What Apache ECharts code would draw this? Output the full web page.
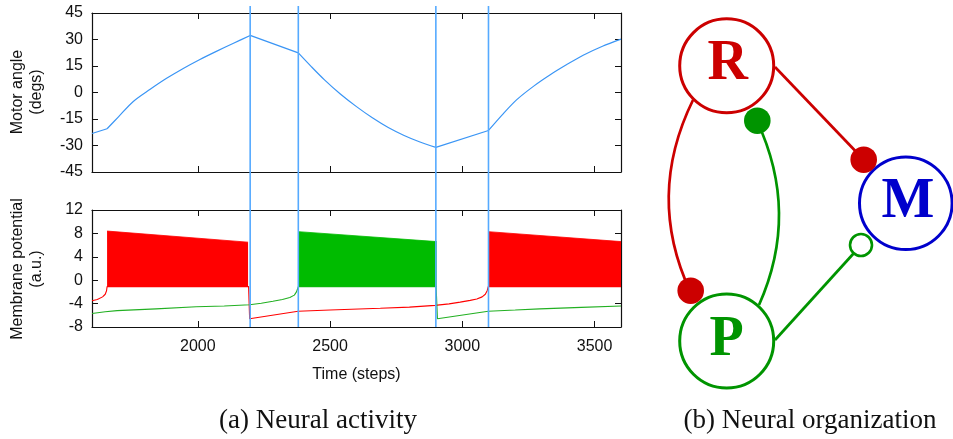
<!DOCTYPE html>
<html>
<head>
<meta charset="utf-8">
<script src="https://cdn.jsdelivr.net/npm/echarts@6/dist/echarts.min.js"></script>
<style>
  html, body { margin: 0; padding: 0; background: #fff; }
  #chart { width: 953px; height: 439px; }
</style>
</head>
<body>
<div id="chart"></div>
<script>
// ---- data -------------------------------------------------------------
const timeRange = [1600, 3600];
const timeTicks = [2000, 2500, 3000, 3500];
const angleRange = [-45, 45];
const potentialRange = [-8, 12];

// switching events (steps)
const eventTimes = [2198, 2380, 2900, 3099];

// motor angle trajectory
const motorTime  = [1600, 1657, 1700, 1755, 1820, 1882, 1945, 2008, 2070, 2135, 2198,
                    2380, 2430, 2480, 2540, 2600, 2660, 2720, 2780, 2840, 2900,
                    3099, 3150, 3205, 3270, 3331, 3395, 3457, 3530, 3600];
const motorAngle = [-23.2, -20.5, -13.8, -5.2, 1.8, 8.0, 13.6, 18.7, 23.3, 27.9, 32.3,
                    22.4, 14.5, 7.0, -1.0, -8.0, -14.3, -19.8, -24.3, -28.0, -31.1,
                    -21.5, -12.8, -4.2, 3.6, 9.9, 15.8, 21.1, 26.2, 30.2];
// steps where the motor command switches (corners of the trajectory)
const motorCorners = [1657, 2198, 2380, 2900, 3099];

// sub-threshold membrane potential of R (red) and P (green)
const redTime      = [1600, 1620, 1640, 1650, 1655, 1657, 2192, 2196, 2379, 2500, 2690, 2800,
                      2897, 2950, 2992, 3030, 3055, 3075, 3087, 3094, 3098, 3600];
const redPotential = [-3.5, -3.3, -2.85, -2.4, -1.8, -1.1, -1.1, -6.6, -5.3, -5.1, -4.8, -4.6,
                      -4.3, -4.05, -3.75, -3.45, -3.2, -2.85, -2.4, -1.8, -1.1, -1.1];
const greenTime      = [1600, 1650, 1695, 1842, 1994, 2100, 2196, 2240, 2284, 2320, 2348,
                        2365, 2373, 2377, 2380, 2901, 2906, 3098, 3200, 3293, 3450, 3600];
const greenPotential = [-5.7, -5.4, -5.2, -4.9, -4.55, -4.4, -4.2, -3.95, -3.6, -3.3, -2.95,
                        -2.55, -2.0, -1.5, -1.1, -1.1, -6.6, -5.3, -5.1, -4.9, -4.65, -4.4];

// spiking bursts: start/end step and spike peak at start/end, trough level
const spikeTrough = -1.1;
const redBurstStart = [1657, 3098];
const redBurstEnd   = [2190, 3600];
const redPeakStart  = [8.4, 8.3];
const redPeakEnd    = [6.5, 6.6];
const greenBurstStart = [2380];
const greenBurstEnd   = [2903];
const greenPeakStart  = [8.3];
const greenPeakEnd    = [6.6];

// ---- styling ----------------------------------------------------------
const AXIS = '#111';
const SANS = 'Liberation Sans, Arial, sans-serif';
const SERIF = 'Liberation Serif, Times New Roman, serif';
const RED_N = '#cc0000', GREEN_N = '#009400', BLUE_N = '#0000cc';
const RED_S = '#ff0000', GREEN_S = '#00bb00';

const zip = (xs, ys) => xs.map((x, i) => [x, ys[i]]);

// split the trajectory at its corners so each piece can be smoothed on its own
function motorPieces() {
  const pts = zip(motorTime, motorAngle);
  const pieces = [];
  let cur = [];
  pts.forEach(p => {
    cur.push(p);
    if (motorCorners.includes(p[0])) { pieces.push(cur); cur = [p]; }
  });
  if (cur.length > 1) pieces.push(cur);
  return pieces;
}

function frameX(gridIndex, position, labels) {
  return {
    type: 'value', gridIndex, position,
    min: timeRange[0], max: timeRange[1],
    axisLine: { show: true, onZero: false, lineStyle: { color: AXIS, width: 1.2 } },
    axisTick: { show: true, inside: true, length: 6, customValues: timeTicks,
                lineStyle: { color: AXIS, width: 1 } },
    axisLabel: { show: labels, customValues: timeTicks, margin: 12,
                 formatter: v => String(v),
                 color: '#111', fontSize: 16, fontFamily: SANS },
    splitLine: { show: false }
  };
}
function frameY(gridIndex, position, range, step, labels) {
  return {
    type: 'value', gridIndex, position,
    min: range[0], max: range[1], interval: step,
    axisLine: { show: true, onZero: false, lineStyle: { color: AXIS, width: 1.2 } },
    axisTick: { show: true, inside: true, length: 6, lineStyle: { color: AXIS, width: 1 } },
    axisLabel: { show: labels, margin: 9, color: '#111', fontSize: 16, fontFamily: SANS },
    splitLine: { show: false }
  };
}

function burstSeries(starts, ends, p0, p1, color) {
  return starts.map((s, i) => ({
    type: 'line', xAxisIndex: 3, yAxisIndex: 3,
    data: [[s, p0[i]], [ends[i], p1[i]]],
    symbol: 'none', silent: true, z: 3,
    lineStyle: { width: 0.8, color },
    areaStyle: { origin: spikeTrough, color, opacity: 1 }
  }));
}

const chart = echarts.init(document.getElementById('chart'), null, { renderer: 'canvas' });

const centered = { textAlign: 'center', textVerticalAlign: 'middle', align: 'center', verticalAlign: 'middle' };

const diagram = [
  // connections
  { type: 'line', shape: { x1: 775, y1: 67, x2: 864, y2: 160 },
    style: { stroke: RED_N, lineWidth: 2.7 } },
  { type: 'bezierCurve', shape: { x1: 693, y1: 100, cpx1: 646, cpy1: 196, x2: 690, y2: 291 },
    style: { stroke: RED_N, lineWidth: 2.7, fill: null } },
  { type: 'bezierCurve', shape: { x1: 759, y1: 305, cpx1: 800, cpy1: 213, x2: 757, y2: 121 },
    style: { stroke: GREEN_N, lineWidth: 2.7, fill: null } },
  { type: 'line', shape: { x1: 775, y1: 340, x2: 854, y2: 253 },
    style: { stroke: GREEN_N, lineWidth: 2.7 } },
  // neurons
  { type: 'circle', shape: { cx: 726.7, cy: 65.8, r: 47 },
    style: { stroke: RED_N, lineWidth: 3, fill: '#fff' } },
  { type: 'circle', shape: { cx: 905.8, cy: 203.3, r: 46.3 },
    style: { stroke: BLUE_N, lineWidth: 3, fill: '#fff' } },
  { type: 'circle', shape: { cx: 726.7, cy: 341, r: 47 },
    style: { stroke: GREEN_N, lineWidth: 3, fill: '#fff' } },
  // synapse terminals
  { type: 'circle', shape: { cx: 863.7, cy: 159.7, r: 13.3 }, style: { fill: RED_N } },
  { type: 'circle', shape: { cx: 690.7, cy: 290.7, r: 13.3 }, style: { fill: RED_N } },
  { type: 'circle', shape: { cx: 757.3, cy: 120.7, r: 13.3 }, style: { fill: GREEN_N } },
  { type: 'circle', shape: { cx: 861, cy: 245, r: 11 },
    style: { fill: '#fff', stroke: GREEN_N, lineWidth: 2.6 } },
  // labels
  { type: 'text', x: 727.7, y: 65, style: { text: 'R', font: 'bold 56px ' + SERIF, fill: RED_N, ...centered } },
  { type: 'text', x: 908, y: 202.3, style: { text: 'M', font: 'bold 56px ' + SERIF, fill: BLUE_N, ...centered } },
  { type: 'text', x: 726.7, y: 340.3, style: { text: 'P', font: 'bold 56px ' + SERIF, fill: GREEN_N, ...centered } }
];

const captions = [
  { type: 'text', x: 318, y: 421, style: { text: '(a) Neural activity', font: '27px ' + SERIF,
    fill: '#111', ...centered } },
  { type: 'text', x: 810, y: 421, style: { text: '(b) Neural organization', font: '27px ' + SERIF,
    fill: '#111', ...centered } },
  { type: 'text', x: 27, y: 92, rotation: Math.PI / 2,
    style: { text: 'Motor angle\n(degs)', font: '16px ' + SANS, lineHeight: 19, fill: '#111', ...centered } },
  { type: 'text', x: 27, y: 269, rotation: Math.PI / 2,
    style: { text: 'Membrane potential\n(a.u.)', font: '16px ' + SANS, lineHeight: 19, fill: '#111', ...centered } },
  { type: 'text', x: 356.5, y: 375, style: { text: 'Time (steps)', font: '16px ' + SANS, fill: '#111', ...centered } }
];

chart.setOption({
  animation: false,
  backgroundColor: '#fff',
  grid: [
    { left: 92, top: 13, width: 529, height: 159 },
    { left: 92, top: 6, width: 529, height: 321 },
    { left: 92, top: 210, width: 529, height: 117 }
  ],
  xAxis: [
    frameX(0, 'bottom', false),
    frameX(0, 'top', false),
    { type: 'value', gridIndex: 1, min: timeRange[0], max: timeRange[1], show: false },
    frameX(2, 'bottom', true),
    frameX(2, 'top', false)
  ],
  yAxis: [
    frameY(0, 'left', angleRange, 15, true),
    frameY(0, 'right', angleRange, 15, false),
    { type: 'value', gridIndex: 1, min: 0, max: 1, show: false },
    frameY(2, 'left', potentialRange, 4, true),
    frameY(2, 'right', potentialRange, 4, false)
  ],
  series: [
    ...motorPieces().map(piece => ({
      name: 'Motor angle', type: 'line', xAxisIndex: 0, yAxisIndex: 0,
      data: piece, symbol: 'none', z: 3, smooth: 0.3,
      lineStyle: { color: '#3a95f5', width: 1.2 }
    })),
    {
      name: 'R', type: 'line', xAxisIndex: 3, yAxisIndex: 3,
      data: zip(redTime, redPotential), symbol: 'none', z: 2,
      lineStyle: { color: RED_S, width: 1.1 }
    },
    {
      name: 'P', type: 'line', xAxisIndex: 3, yAxisIndex: 3,
      data: zip(greenTime, greenPotential), symbol: 'none', z: 2,
      lineStyle: { color: '#22b022', width: 1.1 }
    },
    ...burstSeries(redBurstStart, redBurstEnd, redPeakStart, redPeakEnd, RED_S),
    ...burstSeries(greenBurstStart, greenBurstEnd, greenPeakStart, greenPeakEnd, GREEN_S),
    {
      name: 'events', type: 'custom', xAxisIndex: 2, yAxisIndex: 2, z: 10, silent: true,
      data: eventTimes.map(t => [t, 0]),
      encode: { x: 0, y: 1 },
      renderItem: (params, api) => {
        const a = api.coord([api.value(0), 1]);
        const b = api.coord([api.value(0), 0]);
        return { type: 'line', shape: { x1: a[0], y1: a[1], x2: b[0], y2: b[1] },
                 style: { stroke: '#55aaff', lineWidth: 1.6 } };
      }
    }
  ],
  graphic: [...diagram, ...captions]
});
</script>
</body>
</html>
